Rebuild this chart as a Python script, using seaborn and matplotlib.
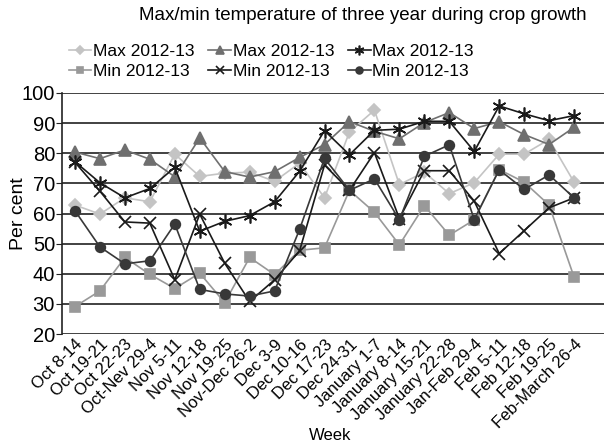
import seaborn as sns
import matplotlib.pyplot as plt

# week labels (x axis)
weeks = ['Oct 8-14', 'Oct 19-21', 'Oct 22-23', 'Oct-Nev 29-4', 'Nov 5-11', 'Nov 12-18',
         'Nov 19-25', 'Nov-Dec 26-2', 'Dec 3-9', 'Dec 10-16', 'Dec 17-23', 'Dec 24-31',
         'January 1-7', 'January 8-14', 'January 15-21', 'January 22-28', 'Jan-Feb 29-4',
         'Feb 5-11', 'Feb 12-18', 'Feb 19-25', 'Feb-March 26-4']

# values (per cent)
max_diamond = [62.8, 59.8, 65.2, 63.9, 79.7, 72.3, 73.4, 73.7, 70.7, 76.7, 65.2,
               87.1, 94.3, 69.6, 73.7, 66.6, 70.2, 79.7, 79.7, 84.6, 70.4]
max_triangle = [80.4, 78.2, 81.1, 78.0, 72.2, 85.1, 73.9, 72.1, 73.9, 78.6, 82.9,
                90.5, 87.3, 84.8, 90.2, 93.5, 88.2, 90.5, 86.2, 82.9, 88.6]
max_star = [77.2, 70.2, 65.2, 68.3, 75.3, 54.1, 57.4, 59.3, 63.9, 74.0, 87.5,
            79.5, 87.6, 88.0, 90.6, 90.6, 80.6, 95.7, 93.1, 90.8, 92.5]
min_square = [29.1, 34.3, 45.4, 39.8, 35.1, 40.2, 30.4, 45.4, 39.7, 47.8, 48.6,
              67.7, 60.4, 49.6, 62.6, 52.8, 57.9, 74.6, 70.4, 62.8, 38.9]
min_cross = [77.0, 67.4, 57.2, 56.8, 38.0, 59.8, 43.5, 30.8, 38.0, 47.6, 76.1,
             67.7, 80.2, 58.3, 74.2, 74.2, 64.1, 46.7, 54.3, 61.9, 65.2]
min_circle = [60.9, 48.9, 43.3, 44.3, 56.5, 34.8, 33.3, 32.6, 34.3, 54.7, 78.3,
              67.7, 71.5, 57.9, 79.0, 82.8, 58.0, 74.5, 68.0, 72.8, 65.2]

plt.rcParams['font.family'] = ['Liberation Sans', 'DejaVu Sans']

fig = plt.figure(figsize=(6.04, 4.46), dpi=100)
ax = fig.add_axes([62 / 604, (446 - 334) / 446, (604 - 62) / 604, (334 - 93) / 446])

x = list(range(len(weeks)))

# (values, marker, colour, marker size, label)
series = [
    (max_diamond, 'D', '#c4c4c4', 6.5, 'Max 2012-13'),
    (max_triangle, '^', '#6f6f6f', 8, 'Max 2012-13'),
    (max_star, (6, 2, 0), '#1a1a1a', 10, 'Max 2012-13'),
    (min_square, 's', '#999999', 7, 'Min 2012-13'),
    (min_cross, 'x', '#1a1a1a', 8.5, 'Min 2012-13'),
    (min_circle, 'o', '#383838', 7, 'Min 2012-13'),
]

handles = []
for vals, mk, col, ms, lab in series:
    sns.lineplot(x=x, y=vals, ax=ax, color=col, marker=mk, markersize=ms,
                 markeredgecolor=col, markeredgewidth=1.2, linewidth=1.2,
                 label=lab, legend=False)
    handles.append(ax.lines[-1])

# gridlines and frame
ax.set_ylim(20, 100)
ax.set_xlim(-0.52, 21.2)
ax.set_yticks(range(20, 101, 10))
ax.grid(axis='y', color='#333333', linewidth=1.3)
ax.set_axisbelow(True)
for s in ['top', 'right', 'bottom']:
    ax.spines[s].set_visible(False)
ax.spines['left'].set_color('#222222')
ax.spines['left'].set_linewidth(1.2)
ax.tick_params(axis='y', direction='out', length=4, labelsize=14.5, pad=1, color='#222222')
ax.tick_params(axis='x', length=0, labelsize=12, pad=2)
ax.set_xticks(x)
ax.set_xticklabels(weeks, rotation=45, ha='right', rotation_mode='anchor')

ax.set_ylabel('Per cent', fontsize=14)
ax.yaxis.set_label_coords((27 - 62) / 542, 0.5)
ax.set_xlabel('Week', fontsize=12)
ax.xaxis.set_label_coords((330 - 62) / 542, -(428 - 334) / 241)

# legend: fill order column-wise so rows read Max.../Min...
order = [0, 3, 1, 4, 2, 5]
fig.legend([handles[i] for i in order], [series[i][4] for i in order],
           ncol=3, loc='upper left', bbox_to_anchor=(60 / 604, 1 - 35 / 446),
           frameon=False, fontsize=12.5, handlelength=1.3, handletextpad=0.1,
           columnspacing=0.8, labelspacing=0.3, markerscale=0.7, borderpad=0)

fig.text(363 / 604, 1 - 15 / 446, 'Max/min temperature of three year during crop growth',
         ha='center', va='center', fontsize=13.5)

fig.savefig('out.png', dpi=100)
